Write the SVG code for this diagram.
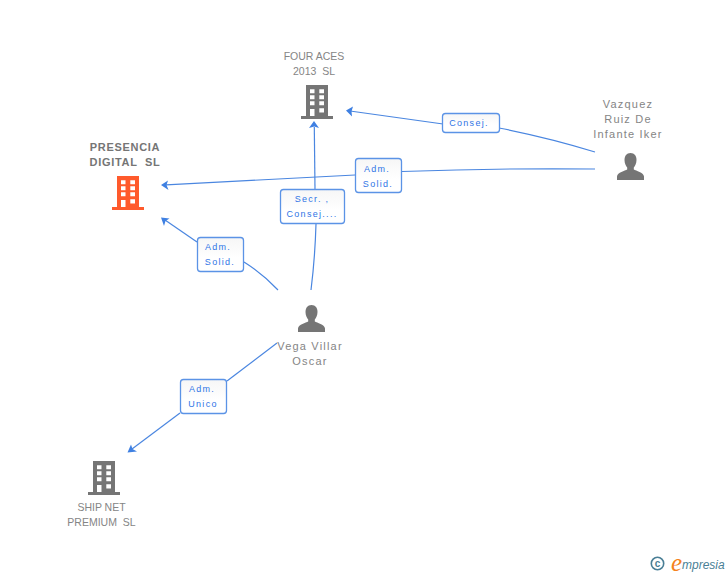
<svg xmlns="http://www.w3.org/2000/svg" width="728" height="575" viewBox="0 0 728 575">
<style>
text{font-family:"Liberation Sans",Arial,sans-serif;white-space:pre}
.n{font-size:11px;fill:#858585;text-anchor:middle;letter-spacing:1.2px}
.u{font-size:10.500px;fill:#858585;text-anchor:middle;letter-spacing:0}
.b{font-size:11px;fill:#757575;text-anchor:middle;font-weight:bold;letter-spacing:.7px}
.l{font-size:9px;fill:#2f74e6;text-anchor:middle;letter-spacing:1.300px}
.c{fill:none;stroke:#4a86e0;stroke-width:1.2}
.box{fill:url(#g);stroke:#5b93e6;stroke-width:1.3}
.a{fill:#3f80e2}
</style>
<defs>
<linearGradient id="g" x1="0" y1="0" x2="0" y2="1"><stop offset="0" stop-color="#f6f6f6"/><stop offset=".6" stop-color="#fff"/></linearGradient>
<g id="bld">
<path fill-rule="evenodd" d="M4 0H26V31H31V34H-1V31H4ZM8 4.300V8.300H12.500V4.300ZM17.300 4.300V8.300H22V4.300ZM8 10.300V14.300H12.500V10.300ZM17.300 10.300V14.300H22V10.300ZM8 16.300V20.300H12.500V16.300ZM17.300 16.300V20.300H22V16.300ZM8 24V31H12.500V24ZM17.300 23.300V27.600H22V23.300Z"/>
</g>
<path id="per" d="M13.500 0C17.500 0 19.500 3 19.500 7C19.500 10.500 18 13 16.800 14.500V16.500C19 18 26.500 19 27 23.500V27H0V23.500C.5 19 8 18 10.200 16.500V14.500C9 13 7.500 10.500 7.500 7C7.500 3 9.500 0 13.500 0Z"/>
</defs>
<rect width="728" height="575" fill="#fff"/>
<g id="connectors">
<path class="c" d="M595 152Q550 138 499 128"/>
<path class="c" d="M443 124L350 111"/>
<path class="a" d="M346 110.500L353 106.500L351.500 111.500L352 116.500Z"/>
<path class="c" d="M595 169Q500 168 402 171.500"/>
<path class="c" d="M355 175L166 184.800"/>
<path class="a" d="M161 185L168 180.500L166.500 185L168.500 190Z"/>
<path class="c" d="M311 290Q315 258 316 224"/>
<path class="c" d="M315 189L314.300 127"/>
<path class="a" d="M314 121L319 128L314.300 126.500L309 128Z"/>
<path class="c" d="M278 290Q263 274 244 262"/>
<path class="c" d="M197 242L165 220"/>
<path class="a" d="M161 217.500L169.500 218.500L165.500 221L164 226Z"/>
<path class="c" d="M277 343L227 381"/>
<path class="c" d="M180 413L132 449"/>
<path class="a" d="M127.500 452.500L131 444.500L132.500 449L137 451.500Z"/>
<g id="edge-consej"><rect class="box" x="442.500" y="113.500" width="57" height="19" rx="3"/><text class="l" x="469" y="126">Consej.</text></g>
<g id="edge-adm-top"><rect class="box" x="355.500" y="158.500" width="46" height="34" rx="3"/><text class="l" x="377" y="172">Adm.</text><text class="l" x="378" y="187">Solid.</text></g>
<g id="edge-secr"><rect class="box" x="280.500" y="189.500" width="64" height="34" rx="3"/><text class="l" x="312" y="202">Secr. ,</text><text class="l" x="312" y="217">Consej....</text></g>
<g id="edge-adm-left"><rect class="box" x="197.500" y="237.500" width="46" height="34" rx="3"/><text class="l" x="218" y="250">Adm.</text><text class="l" x="220" y="265">Solid.</text></g>
<g id="edge-adm-unico"><rect class="box" x="180.500" y="379.500" width="46" height="34" rx="3"/><text class="l" x="202" y="392">Adm.</text><text class="l" x="203" y="407">Unico</text></g>
</g>
<g id="four-aces"><text class="u" x="314" y="60">FOUR ACES</text><text class="u" x="314" y="75">2013  SL</text><use href="#bld" x="302" y="85" fill="#757575"/></g>
<g id="presencia"><text class="b" x="125" y="151">PRESENCIA</text><text class="b" x="125" y="166">DIGITAL  SL</text><use href="#bld" x="113" y="176" fill="#ff5a2c"/></g>
<g id="ship-net"><text class="u" x="101.500" y="511">SHIP NET</text><text class="u" x="101.500" y="526">PREMIUM  SL</text><use href="#bld" x="89" y="461" fill="#757575"/></g>
<g id="vazquez"><text class="n" x="628" y="108">Vazquez</text><text class="n" x="628" y="123">Ruiz De</text><text class="n" x="628" y="138">Infante Iker</text><use href="#per" x="617" y="153" fill="#757575"/></g>
<g id="vega"><text class="n" x="310" y="350">Vega Villar</text><text class="n" x="310" y="365">Oscar</text><use href="#per" x="298" y="305" fill="#757575"/></g>
<g id="logo">
<circle cx="657.500" cy="563.500" r="6.200" fill="none" stroke="#4a7f96" stroke-width="1.600"/>
<text x="657.500" y="567" font-size="10" font-weight="bold" fill="#4a7f96" text-anchor="middle">c</text>
<text x="671" y="571" font-size="25" font-style="italic" fill="#f58220" style="font-family:'Liberation Serif',serif">e</text>
<text x="682" y="569" font-size="12" font-style="italic" fill="#4a7f96">mpresia</text>
</g>
</svg>
